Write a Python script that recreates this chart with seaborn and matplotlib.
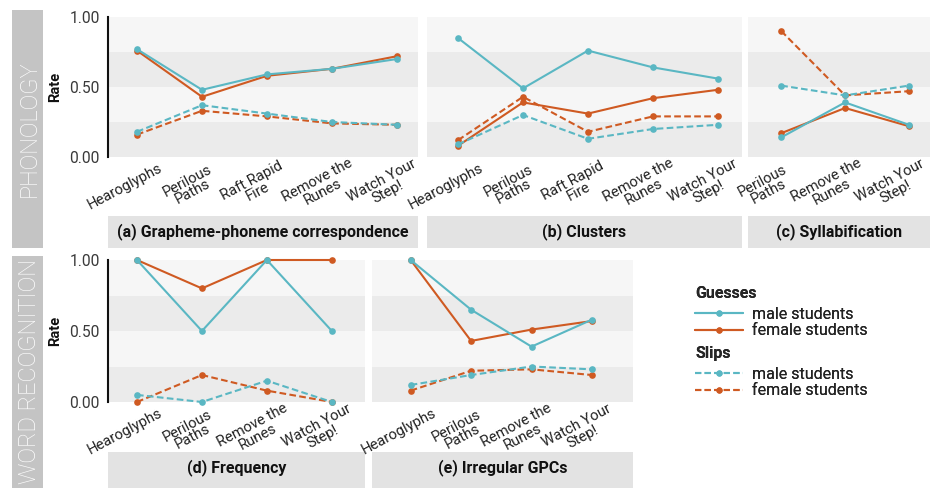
import matplotlib
matplotlib.use("Agg")
import matplotlib.pyplot as plt
import matplotlib.transforms as mtransforms
import seaborn as sns
import pandas as pd
from matplotlib.lines import Line2D

sns.set_theme(style="white")
plt.rcParams['font.family'] = ['Roboto', 'DejaVu Sans']

# ---------------- data ----------------
games5 = ["Hearoglyphs", "Perilous Paths", "Raft Rapid Fire", "Remove the Runes", "Watch Your Step!"]
games3 = ["Perilous Paths", "Remove the Runes", "Watch Your Step!"]
games4 = ["Hearoglyphs", "Perilous Paths", "Remove the Runes", "Watch Your Step!"]
tick_text = {
    "Hearoglyphs": "Hearoglyphs",
    "Perilous Paths": "Perilous\nPaths",
    "Raft Rapid Fire": "Raft Rapid\nFire",
    "Remove the Runes": "Remove the\nRunes",
    "Watch Your Step!": "Watch Your\nStep!",
}

# (a) Grapheme-phoneme correspondence
a_guess_male = [0.77, 0.48, 0.59, 0.63, 0.70]
a_guess_female = [0.76, 0.43, 0.58, 0.63, 0.72]
a_slip_male = [0.18, 0.37, 0.31, 0.25, 0.23]
a_slip_female = [0.16, 0.33, 0.29, 0.24, 0.23]
# (b) Clusters
b_guess_male = [0.85, 0.49, 0.76, 0.64, 0.56]
b_guess_female = [0.08, 0.39, 0.31, 0.42, 0.48]
b_slip_male = [0.09, 0.30, 0.13, 0.20, 0.23]
b_slip_female = [0.12, 0.43, 0.18, 0.29, 0.29]
# (c) Syllabification
c_guess_male = [0.14, 0.39, 0.23]
c_guess_female = [0.17, 0.35, 0.22]
c_slip_male = [0.51, 0.44, 0.51]
c_slip_female = [0.90, 0.44, 0.47]
# (d) Frequency
d_guess_male = [1.00, 0.50, 1.00, 0.50]
d_guess_female = [1.00, 0.80, 1.00, 1.00]
d_slip_male = [0.05, 0.00, 0.15, 0.00]
d_slip_female = [0.00, 0.19, 0.08, 0.00]
# (e) Irregular GPCs
e_guess_male = [1.00, 0.65, 0.39, 0.58]
e_guess_female = [1.00, 0.43, 0.51, 0.57]
e_slip_male = [0.12, 0.19, 0.25, 0.23]
e_slip_female = [0.08, 0.22, 0.23, 0.19]

panel_titles = ["(a) Grapheme-phoneme correspondence", "(b) Clusters", "(c) Syllabification",
                "(d) Frequency", "(e) Irregular GPCs"]
row_titles = ["PHONOLOGY", "WORD RECOGNITION"]
yticks = [0.0, 0.5, 1.0]
ytick_labels = ["0.00", "0.50", "1.00"]

TEAL = "#5ab7c3"
ORANGE = "#cf5a22"
palette = {"male students": TEAL, "female students": ORANGE}

def long_df(games, gm, gf, sm, sf):
    rows = []
    for kind, gender, vals in [("Guesses", "female students", gf), ("Slips", "female students", sf),
                               ("Guesses", "male students", gm), ("Slips", "male students", sm)]:
        for g, v in zip(games, vals):
            rows.append({"game": g, "rate": v, "kind": kind, "gender": gender})
    return pd.DataFrame(rows)

panels = [
    (games5, a_guess_male, a_guess_female, a_slip_male, a_slip_female),
    (games5, b_guess_male, b_guess_female, b_slip_male, b_slip_female),
    (games3, c_guess_male, c_guess_female, c_slip_male, c_slip_female),
    (games4, d_guess_male, d_guess_female, d_slip_male, d_slip_female),
    (games4, e_guess_male, e_guess_female, e_slip_male, e_slip_female),
]

# ---------------- layout (pixels) ----------------
W, H = 932, 488
fig = plt.figure(figsize=(W / 100, H / 100), dpi=100)

def px_axes(x0, y0, x1, y1, **kw):
    return fig.add_axes([x0 / W, 1 - y1 / H, (x1 - x0) / W, (y1 - y0) / H], **kw)

boxes = [
    ((108, 17, 418, 157), (-0.446, 4.323)),
    ((427, 17, 742, 157), (-0.477, 4.37)),
    ((748, 17, 930, 157), (-0.52, 2.33)),
    ((108, 260, 365, 402), (-0.446, 3.51)),
    ((372, 260, 633, 402), (-0.64, 3.68)),
]
strips = [(108, 216, 418, 248), (427, 216, 742, 248), (748, 216, 930, 248),
          (108, 452, 365, 488), (372, 452, 633, 488)]
label_dx = [-12, -12, -16, -12, -12]

for i, ((games, gm, gf, sm, sf), (box, xl), sbox) in enumerate(zip(panels, boxes, strips)):
    ax = px_axes(*box)
    ax.set_facecolor("none")
    df = long_df(games, gm, gf, sm, sf)
    for lo, hi, col in [(0, 0.25, "#ebebeb"), (0.25, 0.5, "#f6f6f6"),
                        (0.5, 0.75, "#ebebeb"), (0.75, 1.0, "#f6f6f6")]:
        ax.axhspan(lo, hi, color=col, lw=0, zorder=0)
    sns.lineplot(data=df, x="game", y="rate", hue="gender", style="kind",
                 palette=palette, dashes={"Guesses": "", "Slips": (3.2, 1.6)},
                 markers={"Guesses": "o", "Slips": "o"}, markersize=4.8,
                 markeredgewidth=0, linewidth=1.5, sort=False, legend=False,
                 ax=ax, clip_on=False, zorder=3)
    ax.set_xlim(*xl)
    ax.set_ylim(0, 1)
    ax.set_xlabel("")
    for s in ["top", "right", "bottom"]:
        ax.spines[s].set_visible(False)
    if i in (0, 3):
        ax.spines["left"].set_visible(True)
        ax.spines["left"].set_color("#111111")
        ax.spines["left"].set_linewidth(1.5)
        ax.set_yticks(yticks)
        ax.set_yticklabels(ytick_labels, fontsize=11.2, color="#3a3a3a")
        ax.tick_params(axis="y", length=0, pad=6)
        ax.set_ylabel("Rate", fontsize=10.5, fontweight="bold", labelpad=5, color="#111111")
    else:
        ax.spines["left"].set_visible(False)
        ax.set_yticks([])
        ax.set_ylabel("")
    ax.tick_params(axis="x", direction="inout", length=8, width=1.6, color="#111111", pad=17)
    ax.set_xticks(range(len(games)))
    ax.set_xticklabels([tick_text[g] for g in games], rotation=28, ha="center", va="center",
                       rotation_mode="anchor", fontsize=10.6, color="#222222",
                       multialignment="center", linespacing=0.88)
    shift = mtransforms.ScaledTranslation(label_dx[i] / 100, 0, fig.dpi_scale_trans)
    for lbl in ax.get_xticklabels():
        lbl.set_transform(lbl.get_transform() + shift)

    sax = px_axes(*sbox)
    sax.set_facecolor("#e3e3e3")
    for s in sax.spines.values():
        s.set_visible(False)
    sax.set_xticks([]); sax.set_yticks([])
    sax.text(0.5, 0.5 if i < 3 else 0.58, panel_titles[i], ha="center", va="center",
             fontsize=11.5, fontweight="bold", color="#111111", transform=sax.transAxes)

for (x0, y0, x1, y1), t in zip([(12, 10, 43, 248), (12, 256, 43, 488)], row_titles):
    rax = px_axes(x0, y0, x1, y1)
    rax.set_facecolor("#c4c4c4")
    for s in rax.spines.values():
        s.set_visible(False)
    rax.set_xticks([]); rax.set_yticks([])
    rax.text(0.55, 0.5, t, rotation=90, ha="center", va="center",
             fontsize=17, color="white", fontweight="light", transform=rax.transAxes)

def handles(ls):
    return [Line2D([0], [0], color=TEAL, lw=1.5, ls=ls, marker="o", markersize=4.5, markeredgewidth=0),
            Line2D([0], [0], color=ORANGE, lw=1.5, ls=ls, marker="o", markersize=4.5, markeredgewidth=0)]

labels = ["male students", "female students"]
for title, ls, ytop in [("Guesses", "-", 286), ("Slips", (0, (3, 1.6)), 346)]:
    leg = fig.legend(handles(ls), labels, title=title, loc="upper left",
                     bbox_to_anchor=(695 / W, 1 - ytop / H), frameon=False,
                     fontsize=11.5, handlelength=3.0, handletextpad=0.55,
                     labelspacing=0.12, borderaxespad=0, borderpad=0,
                     alignment="left",
                     title_fontproperties={"weight": "bold", "size": 11.5})
    leg._legend_box.sep = 4
    for txt in leg.get_texts():
        txt.set_color("#222222")
    fig.add_artist(leg)

fig.savefig("out.png", dpi=100)
